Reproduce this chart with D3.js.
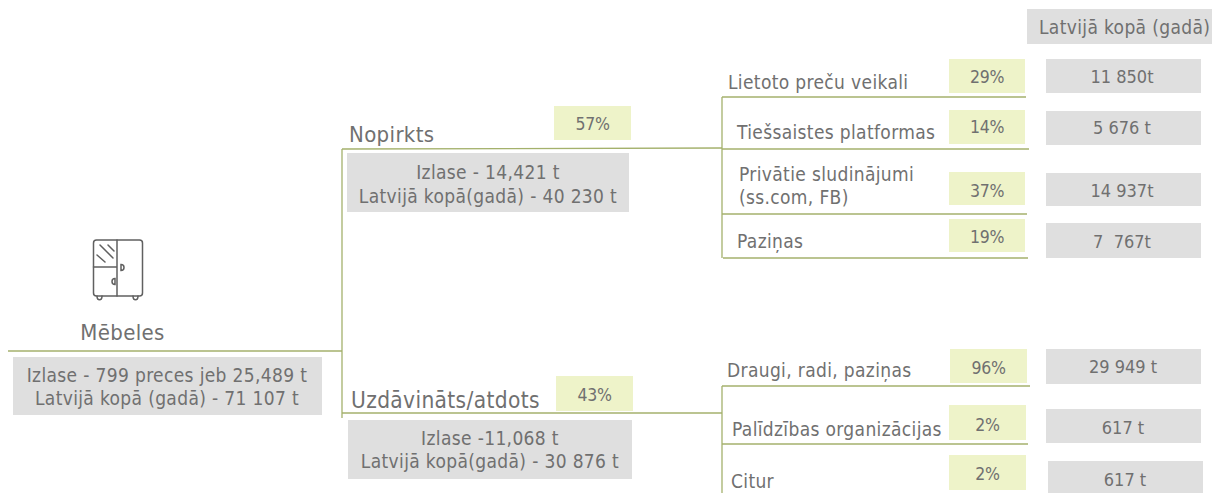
<!DOCTYPE html>
<html>
<head>
<meta charset="utf-8">
<script src="https://cdn.jsdelivr.net/npm/d3@7"></script>
<style>
  html, body { margin: 0; padding: 0; background: #fff; }
  svg { display: block; }
  text { font-family: "DejaVu Sans Condensed", "DejaVu Sans", sans-serif; fill: #707070; letter-spacing: 0.35px; }
  text.num { letter-spacing: 0; }
  text.pct { letter-spacing: -0.3px; }
</style>
</head>
<body>
<div id="chart"></div>
<script>
// Values
var rootLabel = 'Mēbeles';
var rootLines = ['Izlase - 799 preces jeb 25,489 t', 'Latvijā kopā (gadā) - 71 107 t'];
var totalHeader = 'Latvijā kopā (gadā)';

var branchNames = ['Nopirkts', 'Uzdāvināts/atdots'];
var branchPercents = ['57%', '43%'];
var branchLines = [
  ['Izlase - 14,421 t', 'Latvijā kopā(gadā) - 40 230 t'],
  ['Izlase -11,068 t', 'Latvijā kopā(gadā) - 30 876 t']
];

var leafNames = [
  ['Lietoto preču veikali'],
  ['Tiešsaistes platformas'],
  ['Privātie sludinājumi', '(ss.com, FB)'],
  ['Paziņas'],
  ['Draugi, radi, paziņas'],
  ['Palīdzības organizācijas'],
  ['Citur']
];
var leafPercents = ['29%', '14%', '37%', '19%', '96%', '2%', '2%'];
var leafTotals = ['11 850t', '5 676 t', '14 937t', '7  767t', '29 949 t', '617 t', '617 t'];

// Layout, all by hand since this is a diagram and not a plot
var width = 1212, height = 493;
var colors = {line: '#a4b16c', pct: '#eef3c9', grey: '#dfdfdf', icon: '#606060'};
var textSize = 19;

var leafLayout = [
  {textX: 728, textY: [89], pctBox: [949, 59, 1025, 93], pctY: 83, totBox: [1046, 59, 1201, 93], totY: 83, totX: 1122},
  {textX: 737, textY: [139], pctBox: [949, 110, 1025, 144], pctY: 133, totBox: [1046, 111, 1201, 145], totY: 134, totX: 1122},
  {textX: 739, textY: [181, 204], pctBox: [949, 172, 1025, 205], pctY: 197, totBox: [1046, 173, 1201, 206], totY: 197, totX: 1122},
  {textX: 737, textY: [248], pctBox: [949, 219, 1025, 252], pctY: 243, totBox: [1046, 223, 1201, 258], totY: 248, totX: 1122},
  {textX: 727, textY: [377], pctBox: [950, 349, 1027, 383], pctY: 374, totBox: [1046, 349, 1201, 384], totY: 373, totX: 1123},
  {textX: 732, textY: [436], pctBox: [949, 405, 1026, 440], pctY: 431, totBox: [1046, 409, 1201, 443], totY: 434, totX: 1123},
  {textX: 731, textY: [488], pctBox: [949, 455, 1026, 490], pctY: 480, totBox: [1048, 461, 1203, 497], totY: 486, totX: 1125}
];

var branchLayout = [
  {nameX: 349, nameY: 142, nameSize: 22, pctBox: [554, 106, 631, 140], pctY: 130, box: [347, 153, 629, 212], lineY: [179, 203]},
  {nameX: 351, nameY: 408, nameSize: 22.5, pctBox: [556, 376, 633, 411], pctY: 401, box: [348, 420, 632, 479], lineY: [445, 468]}
];

// x1, y1, x2, y2
var connectors = [
  [8, 351, 342, 351],
  [342, 149, 342, 418],
  [342, 149, 722, 148],
  [342, 413, 722, 413],
  [722, 97, 722, 258],
  [722, 97, 1026, 97],
  [722, 149, 1029, 149],
  [722, 214, 1027, 214],
  [723, 258, 1028, 258],
  [722, 386, 722, 493],
  [722, 386, 1030, 386],
  [722, 444, 1028, 444]
];

var svg = d3.select('#chart').append('svg')
  .attr('width', width)
  .attr('height', height);

function addBox(parent, b, fill) {
  parent.append('rect')
    .attr('x', b[0])
    .attr('y', b[1])
    .attr('width', b[2] - b[0])
    .attr('height', b[3] - b[1])
    .attr('fill', fill);
}

function addText(parent, str, x, y, size, anchor, cls) {
  parent.append('text')
    .attr('class', cls || null)
    .attr('x', x)
    .attr('y', y)
    .attr('font-size', size)
    .attr('text-anchor', anchor || 'start')
    .attr('xml:space', 'preserve')
    .text(str);
}

var boxes = svg.append('g').attr('class', 'boxes');
var lines = svg.append('g').attr('class', 'connectors');
var labels = svg.append('g').attr('class', 'labels');

lines.selectAll('line')
    .data(connectors)
  .enter().append('line')
    .attr('x1', function(d) { return d[0]; })
    .attr('y1', function(d) { return d[1]; })
    .attr('x2', function(d) { return d[2]; })
    .attr('y2', function(d) { return d[3]; })
    .attr('stroke', colors.line)
    .attr('stroke-width', 1.3);

// Root
addText(labels, rootLabel, 122.5, 340, 22, 'middle');
addBox(boxes, [13, 357, 322, 415], colors.grey);
addText(labels, rootLines[0], 167, 382, textSize, 'middle');
addText(labels, rootLines[1], 167, 405, textSize, 'middle');

// Header of the totals column
addBox(boxes, [1027, 9, 1212, 44], colors.grey);
addText(labels, totalHeader, 1039, 34, textSize);

// Branches
branchNames.forEach(function(name, i) {
  var l = branchLayout[i];
  addText(labels, name, l.nameX, l.nameY, l.nameSize);
  addBox(boxes, l.pctBox, colors.pct);
  addText(labels, branchPercents[i], (l.pctBox[0] + l.pctBox[2]) / 2, l.pctY, 17.5, 'middle', 'pct');
  addBox(boxes, l.box, colors.grey);
  branchLines[i].forEach(function(str, j) {
    addText(labels, str, (l.box[0] + l.box[2]) / 2, l.lineY[j], textSize, 'middle');
  });
});

// Leaves
leafNames.forEach(function(nameLines, i) {
  var l = leafLayout[i];
  nameLines.forEach(function(str, j) {
    addText(labels, str, l.textX, l.textY[j], textSize);
  });
  addBox(boxes, l.pctBox, colors.pct);
  addText(labels, leafPercents[i], (l.pctBox[0] + l.pctBox[2]) / 2, l.pctY, 17.5, 'middle', 'pct');
  addBox(boxes, l.totBox, colors.grey);
  addText(labels, leafTotals[i], l.totX, l.totY, 18, 'middle', 'num');
});

// Wardrobe icon
var icon = svg.append('g')
    .attr('class', 'icon')
    .attr('fill', 'none')
    .attr('stroke', colors.icon)
    .attr('stroke-width', 1.5)
    .attr('stroke-linecap', 'round');

icon.append('rect').attr('x', 93.5).attr('y', 240).attr('width', 49).attr('height', 56).attr('rx', 3);
icon.append('path').attr('d', 'M117 240V296M93.5 267H117');
icon.append('path').attr('d', 'M100 245L113 258M97 255L105 262M108 245L114 251');
icon.append('path').attr('d', 'M121 264.500C125 264.500 125 270.500 121 270.500Z');
icon.append('path').attr('d', 'M115 278.500C111 278.500 111 284.500 115 284.500Z');
icon.append('path').attr('d', 'M97 296C97 301 102 301 102 296M133 296C133 301 138 301 138 296');
</script>
</body>
</html>
